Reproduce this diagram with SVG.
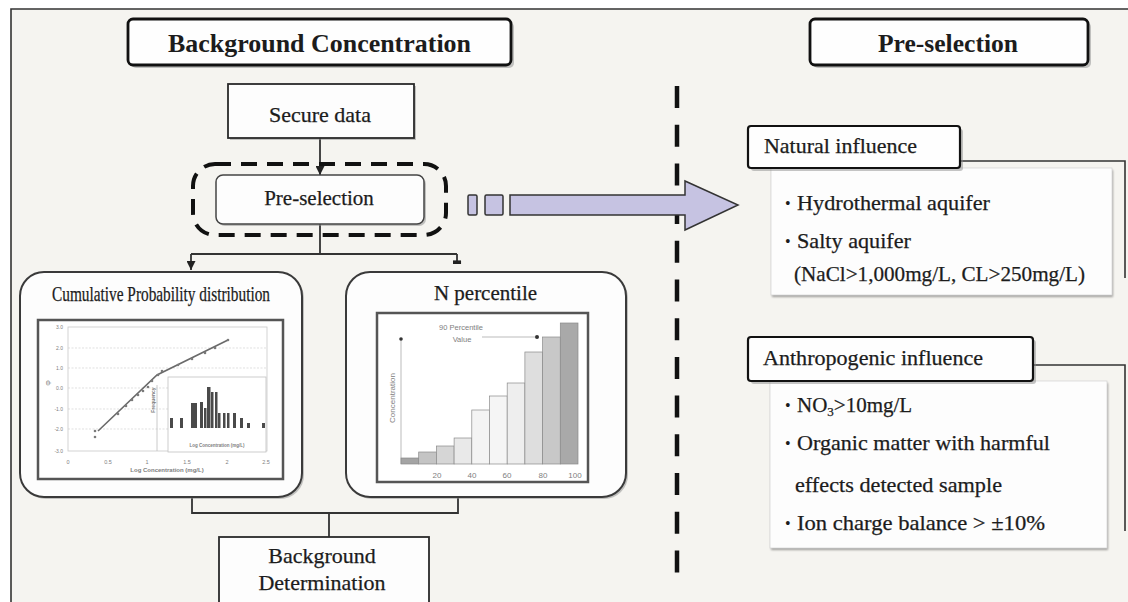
<svg xmlns="http://www.w3.org/2000/svg" width="1128" height="602" viewBox="0 0 1128 602">
<defs>
<style>
.serif{font-family:"Liberation Serif","Times New Roman",serif;fill:#1c1c1c}
.title{font-size:26px;font-weight:bold}
.lbl{font-size:22px;stroke:#1c1c1c;stroke-width:.25}
.item{font-size:21px;stroke:#1c1c1c;stroke-width:.25}
.bul{font-size:16px}
.sans{font-family:"Liberation Sans",Arial,sans-serif;fill:#808080}
.tbox{fill:#fefefe;stroke:#111;stroke-width:2.8}
.box{fill:#fdfdfd;stroke:#2a2a2a;stroke-width:1.8}
.bigbox{fill:#fdfdfd;stroke:#3a3a3a;stroke-width:2}
.hdr{fill:#fefefe;stroke:#111;stroke-width:2.2}
.shadow{fill:#8c8c8c;opacity:.5}
.conn{fill:none;stroke:#333;stroke-width:1.8}
.bracket{fill:none;stroke:#333;stroke-width:1.6}
.grid{stroke:#d2d2d2;stroke-width:.7;stroke-dasharray:2 1.5}
.frame{fill:#fff;stroke:#555;stroke-width:2.5}
.pt{fill:#7a7a7a}
.ibar{fill:#4a4a4a}
.nbar{stroke:#8a8a8a;stroke-width:.7}
</style>
<filter id="soft" x="-5%" y="-5%" width="110%" height="110%"><feGaussianBlur stdDeviation="1.2"/></filter>
<marker id="ah" viewBox="0 0 10 10" refX="10" refY="5" markerUnits="userSpaceOnUse" markerWidth="9" markerHeight="9" orient="auto"><path d="M0,0 L10,5 L0,10 Z" fill="#222"/></marker>
<marker id="ahflat" viewBox="0 0 10 10" refX="10" refY="5" markerUnits="userSpaceOnUse" markerWidth="9" markerHeight="9" orient="auto"><path d="M6,0.5 L10,0.5 L10,9.5 L6,9.5 Z" fill="#222"/></marker>
</defs>

<!-- background and outer frame -->
<rect x="0" y="0" width="1128" height="602" fill="#ffffff"/>
<rect x="11" y="9" width="1117" height="593" fill="#f5f4f0"/>
<path d="M11,602 L11,9 L1128,9" fill="none" stroke="#333" stroke-width="1.6"/>

<!-- separator -->
<line x1="677" y1="86" x2="677" y2="573" stroke="#111" stroke-width="4.5" stroke-dasharray="22 16.7"/>

<!-- connectors -->
<g id="connectors">
<path class="conn" d="M320,138 L320,175" marker-end="url(#ah)"/>
<path class="conn" d="M320,224 L320,254 M191,254 L457,254"/>
<path class="conn" d="M191,254 L191,270" marker-end="url(#ah)"/>
<path class="conn" d="M457,254 L457,264" marker-end="url(#ahflat)"/>
<path class="conn" d="M192,497 L192,513 L458,513 L458,497 M329,513 L329,537"/>
<g id="to-preselection-arrow" fill="#c6c3e2" stroke="#333" stroke-width="1.5">
<rect x="468" y="195" width="9" height="20" rx="1.5"/>
<rect x="485" y="195" width="18" height="20" rx="1.5"/>
<path d="M510,195 L685,195 L685,181 L738,205 L685,230 L685,215 L510,215 Z" stroke-linejoin="miter"/>
</g>
</g>

<!-- titles -->
<g id="title-background-concentration">
<rect class="shadow" x="131" y="22" width="383" height="46" rx="5"/>
<rect class="tbox" x="128" y="19" width="383" height="46" rx="5"/>
<text class="serif title" x="319.5" y="52" text-anchor="middle" textLength="303" lengthAdjust="spacingAndGlyphs">Background Concentration</text>
</g>
<g id="title-pre-selection">
<rect class="shadow" x="813" y="22" width="278" height="46" rx="5"/>
<rect class="tbox" x="810" y="19" width="278" height="46" rx="5"/>
<text class="serif title" x="948" y="52" text-anchor="middle" textLength="140" lengthAdjust="spacingAndGlyphs">Pre-selection</text>
</g>

<!-- left flow -->
<g id="secure-data">
<rect class="shadow" x="230" y="86" width="186" height="54"/>
<rect class="box" x="228" y="84" width="186" height="54"/>
<text class="serif lbl" x="320" y="121.5" text-anchor="middle">Secure data</text>
</g>

<g id="pre-selection">
<rect x="193" y="164" width="253" height="71" rx="22" fill="none" stroke="#111" stroke-width="4" stroke-dasharray="16 10"/>
<rect class="shadow" x="218" y="177" width="208" height="49" rx="7"/>
<rect x="216" y="175" width="208" height="49" rx="7" fill="#fdfdfd" stroke="#444" stroke-width="1.5"/>
<text class="serif item" x="319" y="205" text-anchor="middle">Pre-selection</text>
</g>

<g id="cumulative-probability">
<rect class="shadow" x="22" y="274" width="282" height="225" rx="24"/>
<rect class="bigbox" x="20" y="272" width="282" height="225" rx="24"/>
<text class="serif item" x="52" y="301" textLength="218" lengthAdjust="spacingAndGlyphs">Cumulative Probability distribution</text>
<rect class="frame" x="38" y="320" width="245" height="159"/>
<rect x="68" y="327" width="199" height="124" fill="none" stroke="#c8c8c8" stroke-width=".8"/>
<g class="grid">
<line x1="68" y1="348" x2="267" y2="348"/><line x1="68" y1="368" x2="267" y2="368"/>
<line x1="68" y1="388" x2="267" y2="388"/><line x1="68" y1="409" x2="267" y2="409"/>
<line x1="68" y1="429" x2="267" y2="429"/>
</g>
<line x1="157" y1="385" x2="157" y2="451" stroke="#bdbdbd" stroke-width=".8"/>
<g class="sans" font-size="5" text-anchor="end">
<text x="63" y="329">3.0</text><text x="63" y="350">2.0</text><text x="63" y="370">1.0</text>
<text x="63" y="390">0.0</text><text x="63" y="411">-1.0</text><text x="63" y="431">-2.0</text><text x="63" y="453">-3.0</text>
</g>
<g class="sans" font-size="5.5" text-anchor="middle">
<text x="68" y="464">0</text><text x="108" y="464">0.5</text><text x="147" y="464">1</text>
<text x="187" y="464">1.5</text><text x="227" y="464">2</text><text x="266" y="464">2.5</text>
</g>
<text class="sans" x="167" y="472" font-size="6" font-weight="bold" text-anchor="middle" fill="#555">Log Concentration (mg/L)</text>
<text class="sans" transform="translate(51,383) rotate(-90)" font-size="7" text-anchor="middle" fill="#555">Φ</text>
<polyline points="98,431 157,375 228,340" fill="none" stroke="#6a6a6a" stroke-width="1.6"/>
<g class="pt">
<circle cx="95" cy="431" r="1.3"/><circle cx="95" cy="437" r="1.3"/><circle cx="118" cy="414" r="1.3"/>
<circle cx="126" cy="406" r="1.3"/><circle cx="132" cy="400" r="1.3"/><circle cx="138" cy="395" r="1.3"/>
<circle cx="143" cy="391" r="1.3"/><circle cx="148" cy="387" r="1.3"/><circle cx="152" cy="381" r="1.3"/>
<circle cx="158" cy="375" r="1.3"/><circle cx="162" cy="371" r="1.3"/><circle cx="178" cy="365" r="1.3"/>
<circle cx="192" cy="359" r="1.3"/><circle cx="205" cy="353" r="1.3"/><circle cx="215" cy="348" r="1.3"/>
<circle cx="228" cy="340" r="1.3"/>
</g>
<rect x="168" y="377" width="98" height="75" fill="#fff" stroke="#c0c0c0" stroke-width=".8"/>
<g class="ibar">
<rect x="170" y="418" width="3" height="10"/><rect x="180" y="418" width="3" height="10"/>
<rect x="191" y="403" width="3" height="25"/><rect x="194" y="403" width="3" height="25"/>
<rect x="200" y="402" width="3" height="26"/><rect x="204" y="408" width="2.5" height="20"/>
<rect x="207" y="387" width="3.5" height="41"/><rect x="211" y="392" width="2.5" height="36"/>
<rect x="215" y="392" width="2.5" height="36"/><rect x="218" y="413" width="2.5" height="15"/>
<rect x="223" y="413" width="2.5" height="15"/><rect x="227" y="413" width="2.5" height="15"/>
<rect x="233" y="413" width="3" height="15"/><rect x="240" y="418" width="3" height="10"/>
<rect x="247" y="423" width="3" height="5"/><rect x="262" y="423" width="3" height="5"/>
</g>
<text class="sans" transform="translate(155,400) rotate(-90)" font-size="5" font-weight="bold" text-anchor="middle" fill="#555">Frequency</text>
<text class="sans" x="217" y="447" font-size="4.5" font-weight="bold" text-anchor="middle" fill="#666">Log Concentration (mg/L)</text>
</g>

<g id="n-percentile">
<rect class="shadow" x="348" y="274" width="280" height="225" rx="24"/>
<rect class="bigbox" x="346" y="272" width="280" height="225" rx="24"/>
<text class="serif item" x="485.5" y="300" text-anchor="middle">N percentile</text>
<rect class="frame" x="377" y="313" width="211" height="169"/>
<line x1="401" y1="340" x2="401" y2="464" stroke="#aaa" stroke-width=".8"/>
<circle cx="401" cy="339" r="1.8" fill="#333"/>
<rect class="nbar" x="401" y="458" width="17.7" height="6" fill="#a4a4a4"/>
<rect class="nbar" x="418.7" y="452" width="17.7" height="12" fill="#c4c4c4"/>
<rect class="nbar" x="436.4" y="446" width="17.7" height="18" fill="#d6d6d6"/>
<rect class="nbar" x="454.1" y="438" width="17.7" height="26" fill="#e9e9e9"/>
<rect class="nbar" x="471.8" y="410" width="17.7" height="54" fill="#f4f4f4"/>
<rect class="nbar" x="489.5" y="396" width="17.7" height="68" fill="#f5f5f5"/>
<rect class="nbar" x="507.2" y="383" width="17.7" height="81" fill="#eeeeee"/>
<rect class="nbar" x="524.9" y="352" width="17.7" height="112" fill="#dedede"/>
<rect class="nbar" x="542.6" y="337" width="17.7" height="127" fill="#c8c8c8"/>
<rect class="nbar" x="560.3" y="323" width="17.7" height="141" fill="#a9a9a9"/>
<line x1="482" y1="337" x2="535" y2="337" stroke="#aaa" stroke-width=".8"/>
<circle cx="537" cy="337" r="2" fill="#333"/>
<g class="sans" font-size="8" text-anchor="middle">
<text x="437" y="478">20</text><text x="472" y="478">40</text><text x="507" y="478">60</text>
<text x="543" y="478">80</text><text x="575" y="478">100</text>
</g>
<text class="sans" x="461" y="330" font-size="7.5" text-anchor="middle">90 Percentile</text>
<text class="sans" x="462" y="342" font-size="7.5" text-anchor="middle">Value</text>
<text class="sans" transform="translate(395,398) rotate(-90)" font-size="8" text-anchor="middle">Concentration</text>
</g>

<g id="background-determination">
<rect class="box" x="219" y="537" width="210" height="80"/>
<text class="serif lbl" x="322" y="563" text-anchor="middle">Background</text>
<text class="serif lbl" x="322" y="590" text-anchor="middle">Determination</text>
</g>

<!-- right panel -->
<g id="natural-influence">
<path class="bracket" d="M960,161 L1125,161 L1125,278"/>
<rect x="771" y="168" width="341" height="127" fill="#000" opacity=".35" filter="url(#soft)" transform="translate(1,2)"/>
<rect x="771" y="168" width="341" height="127" fill="#fdfdfd" stroke="#d6d6d6" stroke-width=".8"/>
<rect class="shadow" x="751" y="129" width="212" height="42" rx="3"/>
<rect class="hdr" x="748" y="126" width="212" height="42" rx="3"/>
<text class="serif item" x="764" y="153" textLength="153" lengthAdjust="spacingAndGlyphs">Natural influence</text>
<text class="serif bul" x="785" y="209">•</text>
<text class="serif item" x="797" y="210" textLength="193" lengthAdjust="spacingAndGlyphs">Hydrothermal aquifer</text>
<text class="serif bul" x="785" y="247">•</text>
<text class="serif item" x="797" y="248" textLength="114" lengthAdjust="spacingAndGlyphs">Salty aquifer</text>
<text class="serif item" x="794" y="281" textLength="291" lengthAdjust="spacingAndGlyphs">(NaCl&gt;1,000mg/L, CL&gt;250mg/L)</text>
</g>

<g id="anthropogenic-influence">
<path class="bracket" d="M1033,365 L1125,365 L1125,531"/>
<rect x="770" y="381" width="337" height="167" fill="#000" opacity=".35" filter="url(#soft)" transform="translate(1,2)"/>
<rect x="770" y="381" width="337" height="167" fill="#fdfdfd" stroke="#d6d6d6" stroke-width=".8"/>
<rect class="shadow" x="751" y="340" width="285" height="44" rx="3"/>
<rect class="hdr" x="748" y="337" width="285" height="44" rx="3"/>
<text class="serif item" x="763" y="365" textLength="220" lengthAdjust="spacingAndGlyphs">Anthropogenic influence</text>
<text class="serif bul" x="785" y="411">•</text>
<text class="serif item" x="797" y="412">NO<tspan font-size="13" dy="4">3</tspan><tspan dy="-4">&gt;10mg/L</tspan></text>
<text class="serif bul" x="785" y="449">•</text>
<text class="serif item" x="797" y="450" textLength="253" lengthAdjust="spacingAndGlyphs">Organic matter with harmful</text>
<text class="serif item" x="795" y="492" textLength="207" lengthAdjust="spacingAndGlyphs">effects detected sample</text>
<text class="serif bul" x="785" y="529">•</text>
<text class="serif item" x="797" y="530" textLength="248" lengthAdjust="spacingAndGlyphs">Ion charge balance &gt; ±10%</text>
</g>
</svg>
